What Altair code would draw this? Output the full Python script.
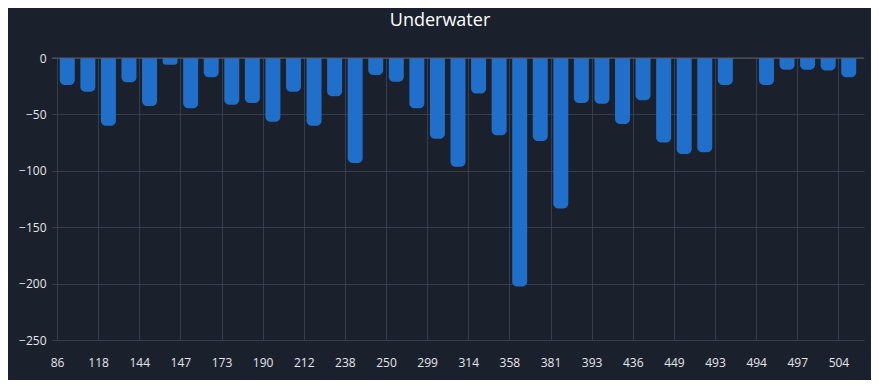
import json
import altair as alt
import pandas as pd

# Tick labels shown on the x axis (every other bar boundary)
tick_labels = ["86", "118", "144", "147", "173", "190", "212", "238", "250", "299",
               "314", "358", "381", "393", "436", "449", "493", "494", "497", "504"]

# Underwater (drawdown) value of each bar, left to right
drawdown = [-24, -30, -60, -21.5, -42.5, -6, -44.5, -17, -41.5, -40,
            -56.5, -30, -60, -34, -93, -15, -21, -44.5, -71.5, -96.5,
            -31.5, -68.5, -202.5, -73.5, -133.5, -40, -40.5, -58.5, -37.5, -75,
            -85, -83.5, -24, 0, -24, -10.5, -10.5, -11, -17]

period = list(range(len(drawdown)))
n = len(drawdown)

df = pd.DataFrame({"period": period, "drawdown": drawdown})

BG = "#1b202d"
GRID = "#383d4b"
TEXT = "#e4e6ea"
BAR = "#1f6fcb"
FONT = "Open Sans"

label_expr = json.dumps(tick_labels) + "[round(datum.value / 2)]"

x_enc = alt.X(
    "pos:Q",
    scale=alt.Scale(domain=[0, n], nice=False, zero=False),
    axis=alt.Axis(
        values=list(range(0, n, 2)),
        labelExpr=label_expr,
        title=None,
        grid=True,
        gridColor=GRID,
        gridWidth=1,
        ticks=False,
        domain=False,
        labelColor=TEXT,
        labelFont=FONT,
        labelFontSize=12,
        labelPadding=17,
        labelFlush=False,
        labelOverlap=False,
    ),
)

y_enc = alt.Y(
    "drawdown:Q",
    scale=alt.Scale(domain=[-250, 0], nice=False),
    axis=alt.Axis(
        values=[-250, -200, -150, -100, -50, 0],
        title=None,
        grid=True,
        gridColor=GRID,
        gridWidth=1,
        ticks=False,
        domain=False,
        labelColor=TEXT,
        labelFont=FONT,
        labelFontSize=12,
        labelPadding=6,
    ),
)

bars = (
    alt.Chart(df)
    .transform_calculate(pos="datum.period + 0.5")
    .mark_bar(
        color=BAR,
        width=15,
        cornerRadiusBottomLeft=5,
        cornerRadiusBottomRight=5,
    )
    .encode(x=x_enc, y=y_enc, y2=alt.datum(0))
)

zero_line = (
    alt.Chart(pd.DataFrame({"zero": [0]}))
    .mark_rule(color="#555a66", strokeWidth=1)
    .encode(y=alt.Y("zero:Q", scale=alt.Scale(domain=[-250, 0], nice=False)))
)

chart = (
    alt.layer(bars, zero_line)
    .properties(
        width=812,
        height=282,
        title=alt.Title(
            "Underwater",
            fontSize=18,
            fontWeight=500,
            color="#ffffff",
            font=FONT,
            anchor="middle",
            frame="group",
            baseline="alphabetic",
            offset=22,
            dx=-18,
            dy=14,
        ),
        autosize=alt.AutoSizeParams(type="none"),
        padding={"left": 44, "top": 50, "right": 7, "bottom": 40},
        background=BG,
    )
    .configure_view(strokeWidth=0)
)

chart.save("out.html", embed_options={"renderer": "svg", "actions": False})
